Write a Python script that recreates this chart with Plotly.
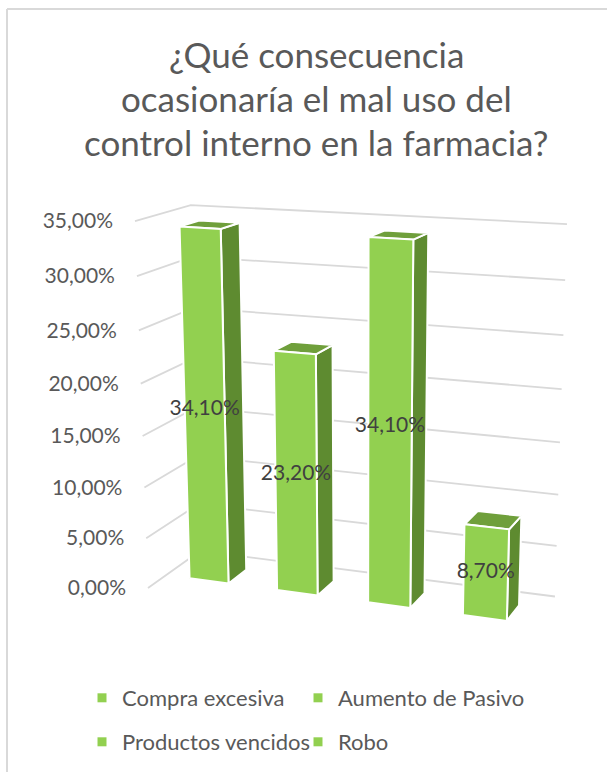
import plotly.graph_objects as go

# ---------------- data ----------------
categories = ["Compra excesiva", "Aumento de Pasivo", "Productos vencidos", "Robo"]
values = [34.10, 23.20, 34.10, 8.70]
value_labels = ["34,10%", "23,20%", "34,10%", "8,70%"]
tick_values = [0, 5, 10, 15, 20, 25, 30, 35]
tick_labels = ["0,00%", "5,00%", "10,00%", "15,00%", "20,00%", "25,00%", "30,00%", "35,00%"]
title_lines = ["¿Qué consecuencia", "ocasionaría el mal uso del", "control interno en la farmacia?"]

# ---------------- 3D perspective (Excel-like 3D column view) ----------------
W, H = 607, 772
F = 1702.0
CX, CY = 345.0, 438.0
ORIGIN = (-0.852, 0.664, 10.0)
DX = (0.9338, 0.0929, -0.3457)
DUP = (-0.00254, -0.9640, -0.2657)
DBACK = (0.3581, -0.2491, 0.8998)
SLOT = 0.534            # world width of one category slot
UNIT = 2.032 / 35.0     # world height of 1 %
DEPTH = 0.661           # depth of the side wall
HALF_W = 0.225          # half bar width in slot units
Z_BACK, Z_FRONT = 0.20, 0.44
N = len(categories)


def proj(x, y, z):
    X, Y, Z = x * SLOT, y * UNIT, z
    p = [ORIGIN[i] + X * DX[i] + Y * DUP[i] - Z * DBACK[i] for i in range(3)]
    return CX + F * p[0] / p[2], CY + F * p[1] / p[2]


def poly(points):
    xs, ys = [], []
    for (a, b, c) in points:
        px, py = proj(a, b, c)
        xs.append(px)
        ys.append(py)
    xs.append(xs[0])
    ys.append(ys[0])
    return xs, ys


FONT = "Lato"
GRID = "#D9D9D9"
FRONT = "#92D050"
SIDE = "#5E8B30"
TOP = "#6F9F3B"

fig = go.Figure()

# gridlines on side wall and back wall
gx, gy = [], []
for v in tick_values:
    for pt in [(0, v, DEPTH), (0, v, 0), (N, v, 0)]:
        px, py = proj(*pt)
        gx.append(px)
        gy.append(py)
    gx.append(None)
    gy.append(None)
fig.add_trace(go.Scatter(x=gx, y=gy, mode="lines", line=dict(color=GRID, width=1.8),
                         hoverinfo="skip", showlegend=False))

# bars
for i, (cat, v) in enumerate(zip(categories, values)):
    x0, x1 = i + 0.5 - HALF_W, i + 0.5 + HALF_W
    faces = [
        ([(x1, 0, Z_FRONT), (x1, 0, Z_BACK), (x1, v, Z_BACK), (x1, v, Z_FRONT)], SIDE),
        ([(x0, v, Z_FRONT), (x1, v, Z_FRONT), (x1, v, Z_BACK), (x0, v, Z_BACK)], TOP),
        ([(x0, 0, Z_FRONT), (x1, 0, Z_FRONT), (x1, v, Z_FRONT), (x0, v, Z_FRONT)], FRONT),
    ]
    for pts, col in faces:
        xs, ys = poly(pts)
        fig.add_trace(go.Scatter(x=xs, y=ys, mode="lines", fill="toself", fillcolor=col,
                                 line=dict(color="white", width=2), hoverinfo="skip",
                                 showlegend=False, name=cat))

# data labels at centre of the front faces
lx, ly = [], []
for i, v in enumerate(values):
    px, py = proj(i + 0.5, v / 2.0, Z_FRONT)
    lx.append(px)
    ly.append(py)
fig.add_trace(go.Scatter(x=lx, y=ly, mode="text", text=value_labels,
                         textposition="middle center",
                         textfont=dict(family=FONT, size=21, color="#404040"),
                         hoverinfo="skip", showlegend=False))

# value axis labels along the front edge of the side wall
tx, ty = [], []
for v in tick_values:
    px, py = proj(0, v, DEPTH)
    tx.append(px - 22)
    ty.append(py + 2)
fig.add_trace(go.Scatter(x=tx, y=ty, mode="text", text=tick_labels,
                         textposition="middle left",
                         textfont=dict(family=FONT, size=21, color="#595959"),
                         hoverinfo="skip", showlegend=False))

# legend entries (one legend box per entry, laid out in a 2x2 grid)
legend_names = ["legend", "legend2", "legend3", "legend4"]
for cat, lg in zip(categories, legend_names):
    fig.add_trace(go.Scatter(x=[None], y=[None], mode="markers", name=cat,
                             marker=dict(symbol="square", size=9, color=FRONT),
                             legend=lg))

# title
for k, line in enumerate(title_lines):
    fig.add_annotation(x=316, y=53.5 + 44 * k, xref="x", yref="y", text=line, showarrow=False,
                       xanchor="center", yanchor="middle",
                       font=dict(family=FONT, size=35, color="#595959"))

legend_common = dict(orientation="h", xanchor="left", yanchor="middle",
                     font=dict(family=FONT, size=22, color="#595959"),
                     bgcolor="rgba(0,0,0,0)", itemclick=False, itemdoubleclick=False)
legend_pos = [(82, 698), (298, 698), (82, 742), (298, 742)]
legend_layout = {}
for lg, (lxp, lyp) in zip(legend_names, legend_pos):
    legend_layout[lg] = dict(x=lxp / W, y=1 - lyp / H, **legend_common)

fig.update_layout(
    width=W, height=H,
    margin=dict(l=0, r=0, t=0, b=0),
    paper_bgcolor="white", plot_bgcolor="white",
    xaxis=dict(range=[0, W], visible=False, fixedrange=True),
    yaxis=dict(range=[H, 0], visible=False, fixedrange=True),
    showlegend=True,
    shapes=[
        dict(type="line", xref="x", yref="y", x0=7, x1=7, y0=9, y1=H, line=dict(color=GRID, width=2)),
        dict(type="line", xref="x", yref="y", x0=7, x1=W, y0=9, y1=9, line=dict(color=GRID, width=2)),
    ],
    **legend_layout,
)

fig.write_html("out.html", config={"displayModeBar": False},
               post_script="document.body.style.margin='0';document.body.style.overflow='hidden';")
